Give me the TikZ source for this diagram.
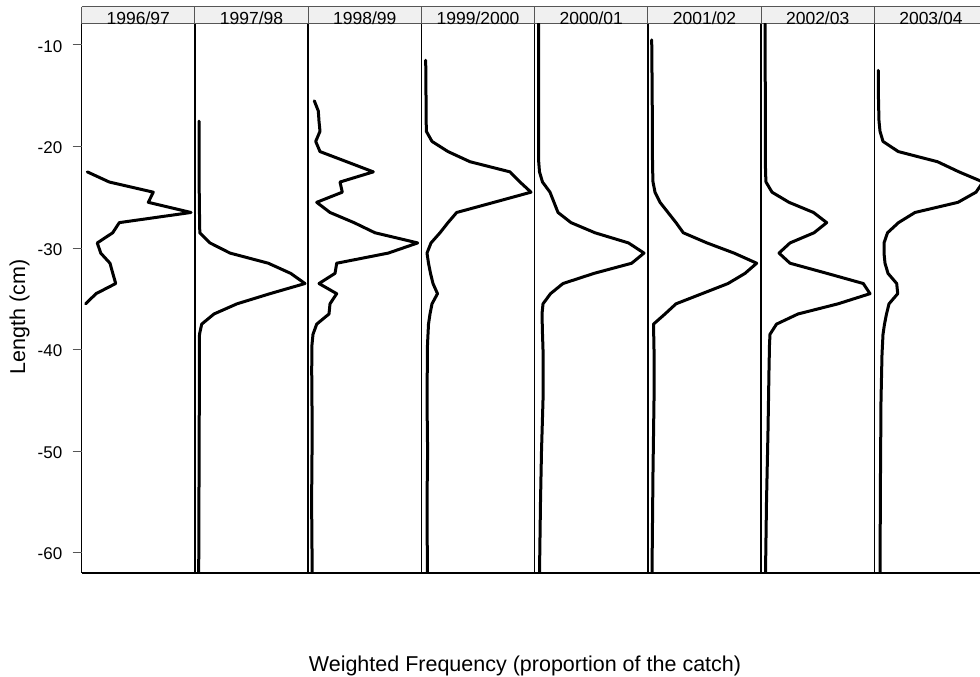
\documentclass[tikz,border=0pt]{standalone}
\usepackage{fontspec}
\setmainfont{Liberation Sans}
\definecolor{stripfill}{RGB}{240,240,240}
\definecolor{stripline}{RGB}{85,85,85}
\definecolor{tickcol}{RGB}{85,85,85}
\begin{document}
\begin{tikzpicture}[x=1pt,y=-1pt,
  curve/.style={line width=3pt, line join=round, line cap=round},
  frame/.style={line width=1.5pt, black},
  stripedge/.style={line width=1pt, stripline},
  tickmark/.style={line width=1pt, tickcol},
  striplabel/.style={font=\fontsize{17.5}{19}\selectfont, anchor=base, inner sep=0pt},
  ticklab/.style={font=\fontsize{17}{19}\selectfont, anchor=east, inner sep=0pt},
  axlab/.style={font=\fontsize{21.5}{24}\selectfont, inner sep=0pt}]
\useasboundingbox (0,0) rectangle (980,677);
\fill[white] (0,0) rectangle (980,677);
% strips
\fill[stripfill] (81.7,7) rectangle (987.5,24);
\draw[stripedge] (81.7,7) -- (987.5,7);
\draw[stripedge] (81.7,24) -- (987.5,24);
\foreach \k in {0,...,8} {
  \draw[stripedge] ({81.7+\k*113.23},7) -- ({81.7+\k*113.23},24);
}
\foreach \lab [count=\i from 0] in {1996/97,1997/98,1998/99,1999/2000,2000/01,2001/02,2002/03,2003/04} {
  \node[striplabel] (strip\i) at ({81.7+(\i+0.5)*113.23},25) {\lab};
}
% panel frames
\foreach \k in {0,...,7} {
  \draw[frame] ({81.7+\k*113.23},24) -- ({81.7+\k*113.23},573);
}
\draw[line width=1.8pt] (81.7,573) -- (987.5,573);
% y ticks
\foreach \v in {10,20,30,40,50,60} {
  \draw[tickmark] (72.5,{-56.5+10.15*\v}) -- (81.7,{-56.5+10.15*\v});
  \node[ticklab] (tick\v) at (62.5,{-55+10.15*\v}) {-\v};
}
% axis labels
\node[axlab, rotate=90] (ylab) at (19.5,317) {Length (cm)};
\node[axlab, anchor=base] (xlab) at (525,671) {Weighted Frequency (proportion of the catch)};
% curves
\begin{scope}
\clip (81.7,23.5) rectangle (987.5,573);
\begin{scope}[yshift=56.5pt, y=10.15pt]
% 1996/97
\draw[curve] (87.3,-22.5) -- (109.3,-23.5) -- (153.3,-24.5) -- (148.3,-25.5) -- (191,-26.5) -- (119.3,-27.5) -- (112.7,-28.5) -- (97.3,-29.5) -- (100.7,-30.5) -- (110,-31.5) -- (112.8,-32.5) -- (115.7,-33.5) -- (96,-34.5) -- (85.7,-35.5);
% 1997/98
\draw[curve] (199,-17.5) -- (199,-20.5) -- (199.3,-25.5) -- (199.8,-28.5) -- (210,-29.5) -- (230,-30.5) -- (268.3,-31.5) -- (290.7,-32.5) -- (305,-33.5) -- (270,-34.5) -- (237,-35.5) -- (214,-36.5) -- (201.7,-37.5) -- (199.5,-38.5) -- (199.3,-45) -- (198.7,-62);
% 1998/99
\draw[curve] (314.3,-15.5) -- (318.3,-16.5) -- (319,-17.5) -- (320,-18.5) -- (315.7,-19.5) -- (320,-20.5) -- (346.7,-21.5) -- (373.3,-22.5) -- (340,-23.5) -- (342.3,-24.5) -- (316.7,-25.5) -- (330,-26.5) -- (354,-27.5) -- (375,-28.5) -- (417.7,-29.5) -- (388.3,-30.5) -- (336.7,-31.5) -- (335,-32.5) -- (319,-33.5) -- (336.7,-34.5) -- (330,-35.5) -- (329,-36.5) -- (316.7,-37.5) -- (313,-38.5) -- (312,-39.5) -- (311.7,-42) -- (312.2,-48) -- (311.6,-55) -- (312.2,-62);
% 1999/2000
\draw[curve] (425.7,-11.5) -- (426,-15) -- (426.3,-18.5) -- (432,-19.5) -- (448,-20.5) -- (470,-21.5) -- (510,-22.5) -- (520,-23.5) -- (531,-24.5) -- (494,-25.5) -- (456.7,-26.5) -- (448,-27.5) -- (440,-28.5) -- (431,-29.5) -- (427,-30.5) -- (428.5,-31.5) -- (430.5,-32.5) -- (433,-33.5) -- (437.5,-34.5) -- (432,-35.5) -- (430,-36.5) -- (428.5,-37.5) -- (427.5,-39.5) -- (427,-45) -- (427.6,-50) -- (427,-55) -- (427.4,-62);
% 2000/01
\draw[curve] (538.5,-7.9) -- (538.5,-15) -- (538.5,-20.5) -- (538.7,-21.5) -- (539.5,-22.5) -- (542.5,-23.5) -- (550,-24.5) -- (554,-25.5) -- (558,-26.5) -- (571,-27.5) -- (595,-28.5) -- (628.5,-29.5) -- (644,-30.5) -- (631.7,-31.5) -- (594,-32.5) -- (563,-33.5) -- (550.5,-34.5) -- (543,-35.5) -- (542,-36.5) -- (542.5,-38.5) -- (543,-40) -- (543,-45) -- (541.5,-50) -- (540.5,-55) -- (539.5,-62);
% 2001/02
\draw[curve] (651.7,-9.5) -- (652.2,-15) -- (652.5,-21.5) -- (652.7,-22.5) -- (653,-23.5) -- (655,-24.5) -- (660,-25.5) -- (668,-26.5) -- (676,-27.5) -- (683.3,-28.5) -- (707,-29.5) -- (734,-30.5) -- (756.7,-31.5) -- (745,-32.5) -- (728,-33.5) -- (702,-34.5) -- (676,-35.5) -- (665,-36.5) -- (653.5,-37.5) -- (654,-40) -- (654,-45) -- (653,-52) -- (652,-62);
% 2002/03
\draw[curve] (765,-7.9) -- (765.3,-15) -- (765.5,-22.5) -- (766,-23.5) -- (772,-24.5) -- (789,-25.5) -- (813.5,-26.5) -- (826.7,-27.5) -- (814,-28.5) -- (790,-29.5) -- (779,-30.5) -- (790,-31.5) -- (827,-32.5) -- (863.3,-33.5) -- (870,-34.5) -- (838,-35.5) -- (798,-36.5) -- (776.5,-37.5) -- (770,-38.5) -- (769.5,-39.5) -- (769,-42) -- (768,-48) -- (766.5,-55) -- (765.5,-62);
% 2003/04
\draw[curve] (878.3,-12.5) -- (878.5,-15.5) -- (879,-17.5) -- (880,-18.5) -- (883,-19.5) -- (898.3,-20.5) -- (937.5,-21.5) -- (959,-22.5) -- (983,-23.5) -- (976,-24.5) -- (958,-25.5) -- (915,-26.5) -- (898.5,-27.5) -- (887.5,-28.5) -- (884,-29.5) -- (884,-30.5) -- (885,-31.5) -- (888,-32.5) -- (896.7,-33.5) -- (897.7,-34.5) -- (889,-35.5) -- (886.5,-36.5) -- (884.5,-37.5) -- (883,-38.5) -- (882,-40.5) -- (881,-45) -- (880.5,-52) -- (880,-62);
\end{scope}
\end{scope}
\end{tikzpicture}
\end{document}
